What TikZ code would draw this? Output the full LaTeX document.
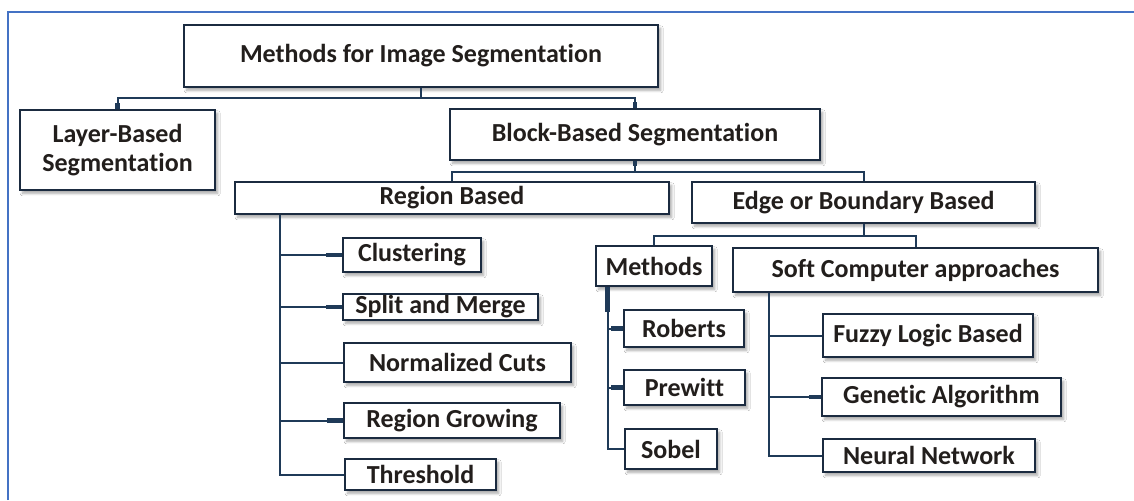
\documentclass[tikz,border=0pt]{standalone}
\usepackage{fontspec}
\setmainfont{Carlito}[Ligatures={NoCommon}]
\usetikzlibrary{shadows.blur,calc}
\definecolor{frameblue}{HTML}{4472C4}
\definecolor{boxline}{HTML}{1B2B40}
\definecolor{linkline}{HTML}{1F3A58}
\definecolor{labeltext}{HTML}{221E1C}
\tikzset{
  x=0.75pt, y=-0.75pt,
  bx/.style 2 args={minimum width=#1*0.75pt, minimum height=#2*0.75pt},
  box/.style={draw=boxline, line width=2pt, fill=white, inner sep=0pt,
    align=center, text=labeltext,
    font=\fontsize{19.5}{22}\selectfont\bfseries,
    blur shadow={shadow xshift=2pt, shadow yshift=-2.5pt, shadow blur steps=6, shadow opacity=35}},
  link/.style={draw=linkline, line width=1.5pt},
  stub/.style={draw=linkline, line width=3.5pt},
}
\begin{document}
\begin{tikzpicture}
\useasboundingbox (0,0) rectangle (1134,500);
\fill[white] (0,0) rectangle (1134,500);
% outer page frame
\draw[frameblue, line width=1.6pt] (8,500) -- (8,12) -- (1134,12);

% tree levels
\node[box, bx={474}{62}] (top) at (421,56) {Methods for Image Segmentation};
\node[box, bx={195}{80}] (layer) at (117.5,150) {Layer-Based\\Segmentation};
\node[box, bx={370}{51}] (block) at (635,134.5) {Block-Based Segmentation};
\node[box, bx={434}{32}] (region) at (452,198) {Region Based};
\node[box, bx={343}{41}] (edge) at (863.5,202.5) {Edge or Boundary Based};
\node[box, bx={116}{40}] (methods) at (654,266) {Methods};
\node[box, bx={365}{44}] (soft) at (915.5,270) {Soft Computer approaches};

% region based techniques
\node[box, bx={138}{34}] (clu) at (412,255) {Clustering};
\node[box, bx={195}{26}] (split) at (440.5,307) {Split and Merge};
\node[box, bx={227}{39}] (norm) at (457.5,362.5) {Normalized Cuts};
\node[box, bx={216}{35}] (grow) at (452,420.5) {Region Growing};
\node[box, bx={151}{31}] (thr) at (420.5,474.5) {Threshold};

% edge operators
\node[box, bx={120}{37}] (rob) at (684,328.5) {Roberts};
\node[box, bx={121}{35}] (pre) at (684.5,387.5) {Prewitt};
\node[box, bx={92}{40}] (sob) at (671,449) {Sobel};

% soft computing
\node[box, bx={210}{43}] (fuz) at (928,335.5) {Fuzzy Logic Based};
\node[box, bx={239}{38}] (gen) at (941.5,397) {Genetic Algorithm};
\node[box, bx={212}{33}] (neu) at (929,455.5) {Neural Network};

% connectors between levels
\draw[link] (top.south) -- ++(0,10) coordinate (j1);
\draw[link] (layer.north) |- (j1) -| (block.north);
\draw[link] (block.south) -- ++(0,11) coordinate (j2);
\draw[link] (region.north) |- (j2) -| (edge.north);
\draw[link] (edge.south) -- ++(0,12) coordinate (j3);
\draw[link] (methods.north) |- (j3) -| (soft.north);
\draw[stub] (layer.north) -- ++(0,-6);
\draw[stub] (block.north) -- ++(0,-6);
\draw[stub] (block.south) -- ++(0,5);

% region based trunk
\coordinate (rt) at ($(region.south west)+(46,0)$);
\draw[link] (rt) |- (thr.west);
\foreach \n in {clu,split,norm,grow} \draw[link] (rt) |- (\n.west);
\foreach \n in {clu,split,grow} \draw[stub] (\n.west) -- ++(-16,0);

% methods trunk
\coordinate (mt) at ($(methods.south west)+(13,0)$);
\draw[link] (mt) |- (sob.west);
\foreach \n in {rob,pre} \draw[link] (mt) |- (\n.west);
\foreach \n in {rob,pre} \draw[stub] (\n.west) -- ++(-12,0);
\draw[stub] (mt) -- ++(0,25);

% soft computing trunk
\coordinate (st) at ($(soft.south west)+(37,0)$);
\draw[link] (st) |- (neu.west);
\foreach \n in {fuz,gen} \draw[link] (st) |- (\n.west);
\draw[stub] (gen.west) -- ++(-12,0);
\end{tikzpicture}
\end{document}
